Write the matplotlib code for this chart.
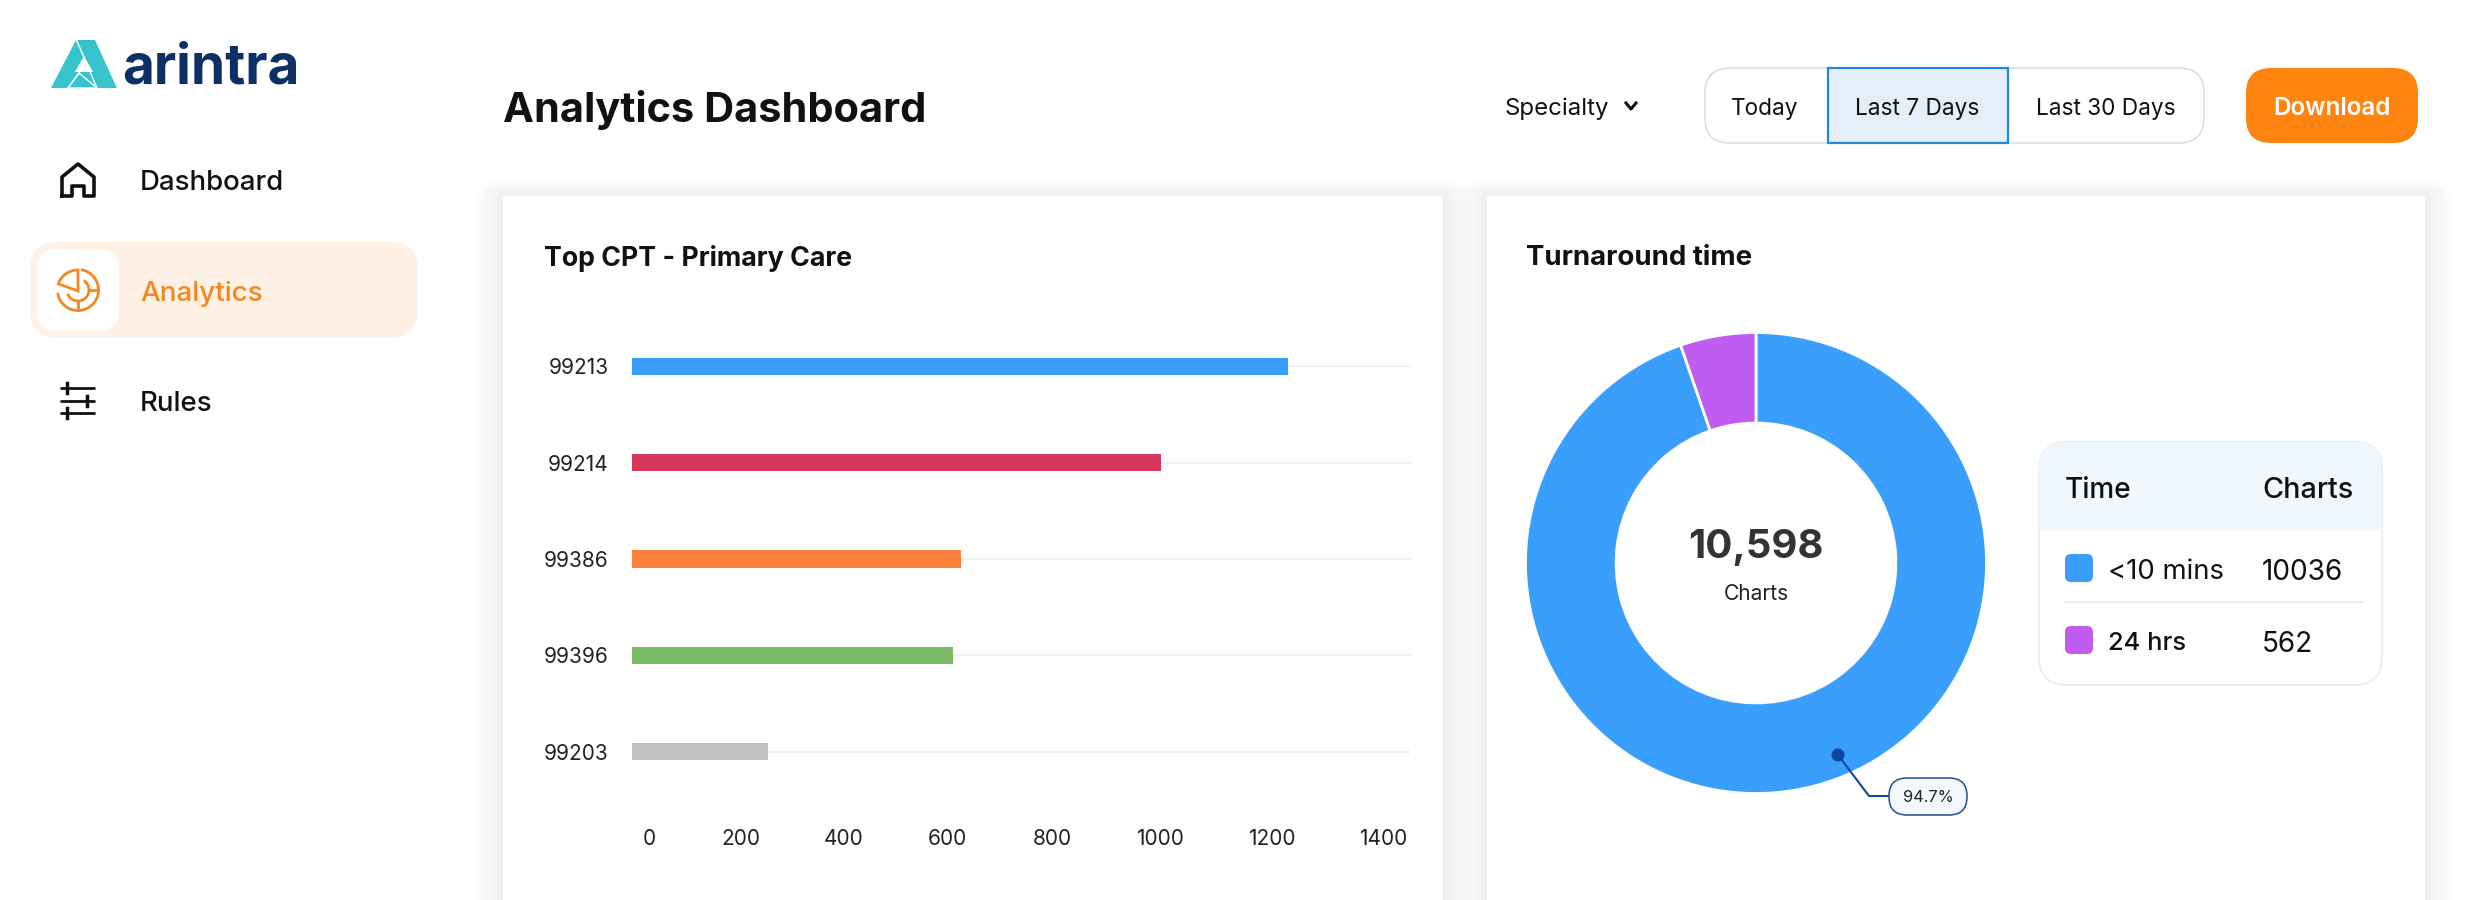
import matplotlib
matplotlib.use('Agg')
import matplotlib.pyplot as plt
import numpy as np
from matplotlib.patches import FancyBboxPatch, Rectangle, Polygon, Circle, Arc

plt.rcParams['font.family'] = ['Inter', 'DejaVu Sans']

# chart data
cpt_codes = ['99213', '99214', '99386', '99396', '99203']
cpt_counts = [1240, 1000, 622, 607, 257]
cpt_colors = ['#3a9efd', '#d6365c', '#ff803a', '#7cbb62', '#c2c2c2']
xtick_labels = ['0', '200', '400', '600', '800', '1000', '1200', '1400']
# the labels in the reference are spread evenly, not on their true values
xtick_at = [32, 205, 400, 596, 794, 997, 1209, 1420]

time_labels = ['<10 mins', '24 hrs']
time_counts = [10036, 562]
time_colors = ['#3a9efd', '#c05cf2']
total_charts = '10,598'
share_label = '94.7%'

W, H = 2480, 900
fig = plt.figure(figsize=(W / 100, H / 100), dpi=100, facecolor='white')

# full page axes in pixels, y going down
page = fig.add_axes([0, 0, 1, 1])
page.set_xlim(0, W)
page.set_ylim(H, 0)
page.axis('off')


def rbox(x0, y0, x1, y1, r, fc, ec='none', lw=0, z=2, alpha=None):
    p = FancyBboxPatch((x0 + r, y0 + r), x1 - x0 - 2 * r, y1 - y0 - 2 * r,
                       boxstyle='round,pad=%f,rounding_size=%f' % (r, r),
                       fc=fc, ec=ec, lw=lw, zorder=z, alpha=alpha)
    page.add_patch(p)
    return p


def label(x, y, s, px, color='#111111', weight='normal', ha='left', z=6):
    # +3 because va=center sits a little high next to the reference
    return page.text(x, y + 3, s, fontsize=px * 0.72, color=color, fontweight=weight,
                     ha=ha, va='center', zorder=z)


def sub_axes(x0, y0, x1, y1):
    return fig.add_axes([x0 / W, 1 - y1 / H, (x1 - x0) / W, (y1 - y0) / H])


# sidebar edge shadow
for i in range(14):
    page.add_patch(Rectangle((447, 0), 14 - i, H, fc='#000000', alpha=0.0018, lw=0, zorder=1))

# cards with a soft shadow
for x0, x1 in [(503, 1443), (1487, 2425)]:
    for i in range(16):
        g = 30 - i * 2
        rbox(x0 - g, 196 - g * 0.6, x1 + g, H + 40, max(g, 1), '#000000', z=1, alpha=0.0032)
    page.add_patch(Rectangle((x0, 196), x1 - x0, H - 196, fc='white', lw=0, zorder=2))

# logo
teal = '#38c4cc'
page.add_patch(Polygon([(51, 88), (76, 40), (95, 40), (117, 88)], fc=teal, lw=0, zorder=3))
page.add_patch(Polygon([(84, 56), (93, 72), (75, 72)], fc='white', lw=0, zorder=4))
page.add_patch(Polygon([(68, 88), (79, 73), (97, 88)], fc=teal, ec='white', lw=1, zorder=4))
page.plot([76.5, 97], [40, 88], color='white', lw=1, zorder=5)
page.plot([68, 79], [88, 73], color='white', lw=1, zorder=5)
label(122, 65, 'arintra', 55, color='#0b2f66', weight='bold')

# sidebar items
label(140, 180, 'Dashboard', 27.6, color='#111111', weight='medium')
label(140, 291, 'Analytics', 27.8, color='#f5871f', weight='medium')
label(140, 401, 'Rules', 27.6, color='#111111', weight='medium')
rbox(30, 242, 418, 338, 28, '#fff1e5')
rbox(37, 249, 119, 331, 20, 'white', z=3)

# home icon
page.plot([62, 62, 78, 94, 94, 84, 84, 72, 72, 62],
          [196, 177, 164, 177, 196, 196, 186, 186, 196, 196],
          color='#111111', lw=2.6, solid_joinstyle='round', zorder=5)

# pie icon
orange = '#f5871f'
page.add_patch(Arc((78, 290), 41, 41, theta1=-82, theta2=172, ec=orange, lw=2, zorder=5))
page.add_patch(Arc((78, 290), 22, 22, theta1=-60, theta2=160, ec=orange, lw=2, zorder=5))
a = np.radians(np.linspace(90, 160, 12))
wedge = [(78, 291)] + [(78 + 21 * np.cos(t), 291 - 21 * np.sin(t)) for t in a]
page.add_patch(Polygon(wedge, fc='white', ec=orange, lw=2, zorder=6))
page.plot([78, 78], [301, 310], color=orange, lw=2, zorder=6)
page.plot([89, 98], [290, 290], color=orange, lw=2, zorder=6)

# sliders icon
for y, xk in [(388, 67), (401, 87), (413, 67)]:
    page.plot([61, 94], [y, y], color='#111111', lw=2, solid_capstyle='round', zorder=5)
    page.plot([xk, xk], [y - 5, y + 5], color='#111111', lw=2.5, zorder=5)

# header
label(503, 107.5, 'Analytics Dashboard', 41.5, color='#111111', weight='bold')
label(1505, 105.5, 'Specialty', 24)
page.plot([1626, 1631, 1636], [103, 109, 103], color='#111111', lw=2.2, zorder=6)

rbox(1705, 68, 2204, 143, 25, 'white', ec='#dcdcdc', lw=1.1)
page.add_patch(Rectangle((1828, 68), 180, 75, fc='#e4eff9', ec='#1e88e5', lw=1.6, zorder=3))
label(1765, 105.5, 'Today', 22.6, ha='center')
label(1917, 105.5, 'Last 7 Days', 22.6, ha='center')
label(2106, 105.5, 'Last 30 Days', 22.6, ha='center')
rbox(2246, 68, 2418, 143, 25, '#ff8410')
label(2332, 105.5, 'Download', 24.3, color='white', weight='semibold', ha='center')

# card titles
label(544, 255, 'Top CPT - Primary Care', 26.7, weight='bold')
label(1526, 255, 'Turnaround time', 27.6, weight='bold')

# bar chart
ax = sub_axes(632, 318, 1411, 800)
ax.patch.set_alpha(0)
y_rows = np.arange(len(cpt_codes))
ax.hlines(y_rows, 0, 1472, color='#efefef', lw=1.2, zorder=1)
ax.barh(y_rows, cpt_counts, height=0.18, color=cpt_colors, zorder=2)
ax.set_xlim(0, 1472)
ax.set_ylim(len(cpt_codes) - 0.5, -0.5)
ax.set_yticks(y_rows, cpt_codes)
ax.set_xticks(xtick_at, xtick_labels)
ax.tick_params(axis='y', length=0, pad=17, labelsize=15, labelcolor='#222222')
ax.tick_params(axis='x', length=0, pad=21, labelsize=15, labelcolor='#222222')
for s in ax.spines.values():
    s.set_visible(False)

# donut
dn = sub_axes(1525.5, 332.5, 1986.5, 793.5)
dn.pie(time_counts, colors=time_colors, startangle=90, counterclock=False, radius=1,
       wedgeprops=dict(width=0.393, edgecolor='white', linewidth=2))
dn.set_xlim(-1, 1)
dn.set_ylim(-1, 1)
dn.set_aspect('equal')
for w in dn.patches:
    w.set_clip_on(False)

# share callout and centre text on top of the donut
over = fig.add_axes([0, 0, 1, 1])
over.set_xlim(0, W)
over.set_ylim(H, 0)
over.axis('off')
over.text(1756, 548, total_charts, fontsize=40 * 0.72, color='#333333', fontweight='bold',
          ha='center', va='center', zorder=8)
over.text(1756, 594, 'Charts', fontsize=21 * 0.72, color='#222222', ha='center', va='center', zorder=8)
over.plot([1838, 1869, 1889], [755, 796, 796], color='#0d47a1', lw=1.5, zorder=3)
over.add_patch(Circle((1838, 755), 6.5, fc='#0d47a1', lw=0, zorder=4))
r = 18
over.add_patch(FancyBboxPatch((1889 + r, 778 + r), 78 - 2 * r, 37 - 2 * r,
                              boxstyle='round,pad=%d,rounding_size=%d' % (r, r),
                              fc='#f3f8fe', ec='#1f4e96', lw=1.1, zorder=5))
over.text(1928, 798, share_label, fontsize=11.8, color='#222222', ha='center', va='center', zorder=6)

# legend table
rbox(2039, 442, 2382, 685, 28, 'white', ec='#eceef1', lw=1.5)
clip = rbox(2039, 442, 2382, 685, 28, 'none')
head = Rectangle((2039, 442), 343, 88, fc='#f0f7fd', lw=0, zorder=3)
page.add_patch(head)
head.set_clip_path(clip)
label(2065, 487, 'Time', 28, weight='medium')
label(2262, 487, 'Charts', 28.8, weight='medium')
page.plot([2065, 2363], [602, 602], color='#eeeeee', lw=1.5, zorder=3)
for row_y, name, n, col, size in zip([568, 640], time_labels, time_counts, time_colors, [27.5, 25.5]):
    rbox(2065, row_y - 14, 2093, row_y + 14, 6, col, z=4)
    label(2108, row_y + 1, name, size, weight='medium' if name == time_labels[1] else 'normal')
    label(2262, row_y + 1, str(n), 28)

fig.savefig('out.png', dpi=100, facecolor='white')
